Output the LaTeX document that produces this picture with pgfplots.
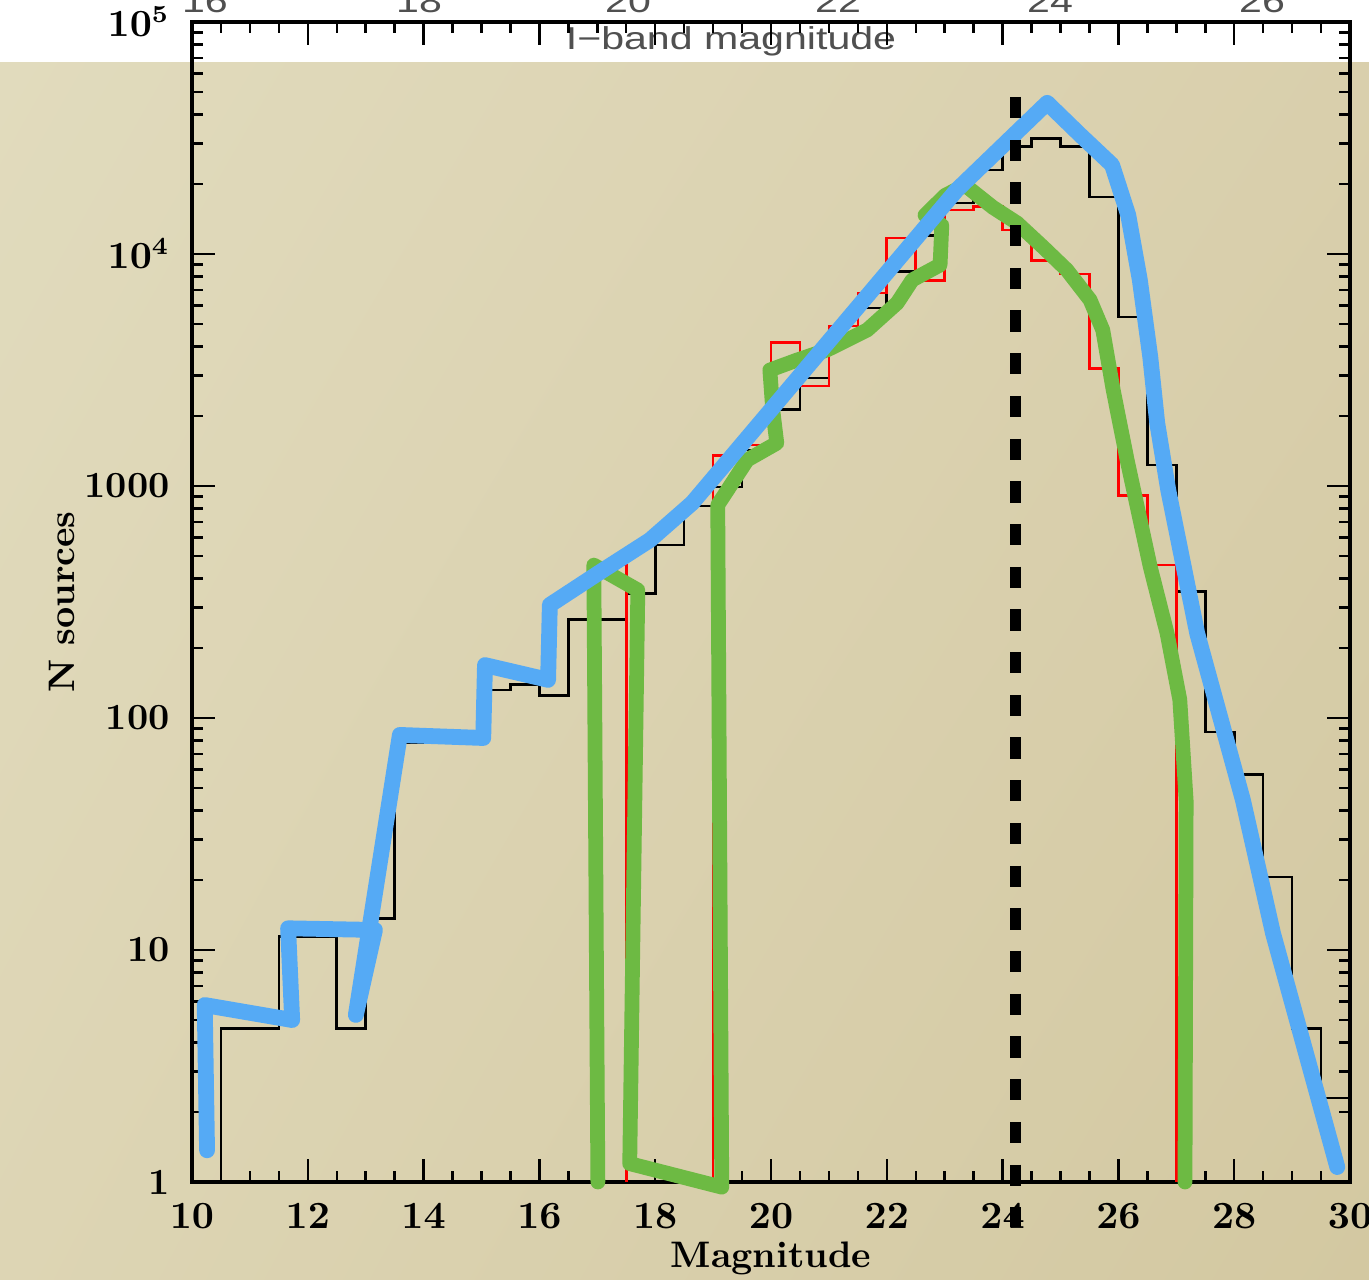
\documentclass[border=0pt]{standalone}
\usepackage{pgfplots}
\pgfplotsset{compat=1.18}
\usetikzlibrary{shadings}
\usepackage{fontspec}
\newfontfamily\graysans{Liberation Sans}
\definecolor{bgul}{HTML}{E1DBBD}
\definecolor{bgur}{HTML}{D9CFAC}
\definecolor{bgll}{HTML}{DDD5B4}
\definecolor{bglr}{HTML}{D3C8A1}
\definecolor{sketchblue}{HTML}{55AAF5}
\definecolor{sketchgreen}{HTML}{6DBA43}
\definecolor{topgray}{HTML}{505050}
\begin{document}
\begin{tikzpicture}
% background: white strip on top, beige gradient below
\shade[upper left=bgul, upper right=bgur, lower left=bgll, lower right=bglr] (0,0) rectangle (13.69,12.18);
\fill[white] (0,12.18) rectangle (13.69,12.80);
\path[use as bounding box] (0,0) rectangle (13.69,12.80);
% remains of the figure behind (cut off at the top)
\begin{scope}[color=topgray, font=\graysans\fontsize{9}{10}\selectfont]
\foreach \px/\lab in {205/16, 419/18, 628/20, 838/22, 1050/24, 1262/26}
  \node[anchor=base, xscale=1.3, inner sep=0pt] at (\px/100, 12.67) {\lab};
\node[anchor=base, xscale=1.3, inner sep=0pt] at (7.31, 12.30) {I−band magnitude};
\end{scope}
\begin{axis}[
    at={(1.92cm,0.98cm)}, anchor=south west,
    scale only axis, width=11.58cm, height=11.60cm,
    xmin=10, xmax=30, ymin=1, ymax=1e5,
    ymode=log,
    xtick={10,12,...,30}, minor x tick num=3,
    ytick={1,10,100,1000,10000,100000},
    yticklabels={1,10,100,1000,$10^4$,$10^5$},
    axis line style={line width=0.9pt},
    major tick length=0.23cm, minor tick length=0.11cm,
    every tick/.style={black, line width=0.7pt},
    tick align=inside,
    clip=false,
    tick label style={font=\bfseries\boldmath\fontsize{10.5}{12}\selectfont},
    xticklabel style={yshift=-0.09cm},
    yticklabel style={xshift=-0.1cm},
    xlabel={Magnitude}, ylabel={N sources},
    label style={font=\bfseries\fontsize{10.5}{12}\selectfont},
    xlabel style={at={(axis description cs:0.5,-0.0655)}, anchor=center},
    ylabel style={at={(axis description cs:-0.1123,0.5)}, anchor=center},
]
% full sample
\addplot[black, line width=0.75pt, const plot mark left] coordinates {
  (10.5,1) (10.5,4.6) (11.5,11.4) (12.5,4.6) (13,13.7) (13.5,78) (14,78) (14.5,80)
  (15,132) (15.5,139) (16,125) (16.5,265) (17,265) (17.5,343) (18,557) (18.5,820)
  (19,990) (19.5,1430) (20,2130) (20.5,2920) (21,4300) (21.5,5850) (22,8400)
  (22.5,12000) (23,16600) (23.5,23000) (24,29000) (24.5,31500) (25,29000)
  (25.5,17600) (26,5350) (26.5,1230) (27,350) (27.5,87) (28,57) (28.5,20.6)
  (29,4.6) (29.5,2.3) (30,2.3)
};
% selected sample
\addplot[red, line width=0.75pt, const plot mark left] coordinates {
  (17,1) (17,457) (17.5,1)
};
\addplot[red, line width=0.75pt, const plot mark left] coordinates {
  (19,1) (19,1350) (19.5,1500) (20,4150) (20.5,2700) (21,4900) (21.5,6800)
  (22,11700) (22.5,7700) (23,15500) (23.5,16000) (24,12700) (24.5,9400)
  (25,8200) (25.5,3200) (26,910) (26.5,457) (27,1)
};
% hand-drawn envelopes
\addplot[sketchgreen, line width=4.2pt, line join=round, line cap=round] coordinates {
  (17.01,1.0) (16.94,456) (17.70,356) (17.56,1.2) (19.15,0.95) (19.08,828)
  (19.59,1295) (20.10,1530) (20.03,2130) (19.98,3160) (20.45,3490) (20.97,3860)
  (21.66,4700) (22.18,6150) (22.44,7730) (22.92,8970) (22.95,13300) (22.66,14700)
  (23.01,17900) (23.35,19800) (23.83,15900) (24.25,13600) (24.70,10700)
  (25.11,8530) (25.51,6340) (25.73,4700) (25.91,2590) (26.15,1295) (26.55,448)
  (26.84,232) (27.06,120) (27.17,44) (27.15,1.0)
};
\addplot[sketchblue, line width=4.5pt, line join=round, line cap=round] coordinates {
  (10.26,1.37) (10.22,5.79) (11.73,4.99) (11.66,12.4) (13.16,12.2) (12.83,5.25)
  (13.59,84.5) (15.03,82) (15.06,169) (16.15,146) (16.18,307) (17.05,426)
  (17.91,585) (18.64,845) (23.21,18900) (24.77,44800) (25.34,32600)
  (25.89,24200) (26.17,14700) (26.37,7720) (26.55,3600) (26.67,1870)
  (26.86,962) (27.36,232) (28.15,44.3) (28.67,11.8) (29.78,1.16)
};
% completeness limit
\addplot[black, line width=3pt, dash pattern=on 0.213cm off 0.214cm] coordinates {
  (24.22,47500) (24.22,0.64)
};
\end{axis}
\end{tikzpicture}
\end{document}
